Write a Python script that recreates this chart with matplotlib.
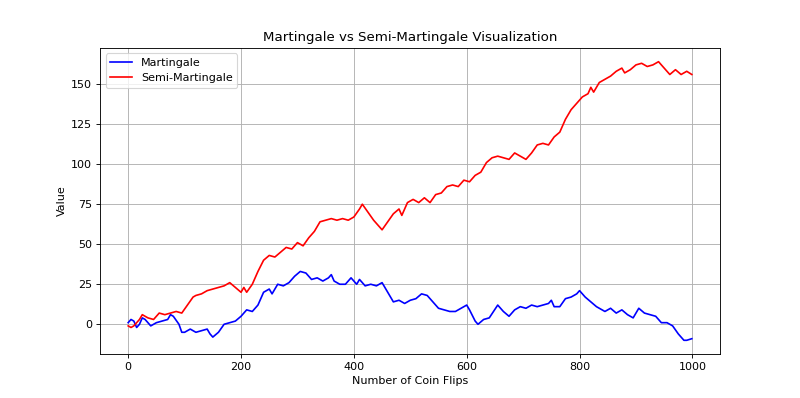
import numpy as np
import matplotlib
matplotlib.use("Agg")
import matplotlib.pyplot as plt

# values (coin flip index, value)
mart_x = [0, 5, 10, 15, 20, 25, 30, 40, 50, 60, 70, 75, 80, 90, 95, 100, 110, 120, 130, 140,
          145, 150, 160, 170, 180, 190, 200, 210, 220, 230, 240, 250, 255, 265, 275, 285, 295, 305,
          315, 325, 335, 345, 355, 360, 365, 375, 385, 395, 405, 410, 420, 430, 440, 450, 460,
          470, 480, 490, 500, 510, 520, 530, 540, 550, 560, 570, 580, 590, 600, 605, 615, 620,
          630, 640, 655, 665, 675, 685, 695, 705, 715, 725, 735, 745, 750, 755, 765, 775, 785,
          795, 800, 810, 820, 830, 840, 845, 855, 865, 875, 885, 895, 905, 915, 925, 935, 945,
          955, 965, 975, 985, 990, 999]
mart_y = [1, 3, 2, -2, 0, 4, 3, -1, 1, 2, 3, 6, 5, 0, -5, -5, -3, -5, -4, -3,
          -6, -8, -5, 0, 1, 2, 5, 9, 8, 12, 20, 22, 19, 25, 24, 26, 30, 33,
          32, 28, 29, 27, 29, 31, 27, 25, 25, 29, 25, 28, 24, 25, 24, 26, 20,
          14, 15, 13, 15, 16, 19, 18, 14, 10, 9, 8, 8, 10, 12, 9, 2, 0,
          3, 4, 12, 8, 5, 9, 11, 10, 12, 11, 12, 13, 15, 11, 11, 16, 17,
          19, 21, 17, 14, 11, 9, 8, 10, 7, 9, 6, 4, 10, 7, 6, 5, 1,
          1, -1, -6, -10, -10, -9]

semi_x = [0, 5, 10, 20, 25, 35, 45, 55, 65, 75, 85, 95, 105, 115, 120, 130, 140, 150, 160, 170,
          180, 190, 200, 205, 210, 220, 230, 240, 250, 260, 270, 280, 290, 300, 310, 320, 330,
          340, 350, 360, 370, 380, 390, 400, 410, 415, 425, 435, 445, 450, 460, 470, 480, 485,
          495, 505, 515, 525, 535, 545, 555, 565, 575, 585, 595, 605, 615, 625, 635, 645, 655,
          665, 675, 685, 695, 705, 715, 725, 735, 745, 755, 765, 775, 785, 795, 805, 815, 820,
          825, 835, 845, 855, 865, 875, 880, 890, 900, 910, 920, 930, 940, 950, 960, 970, 980,
          990, 999]
semi_y = [-1, -2, -1, 3, 6, 4, 3, 7, 6, 7, 8, 7, 12, 17, 18, 19, 21, 22, 23, 24,
          26, 23, 20, 23, 20, 25, 33, 40, 43, 42, 45, 48, 47, 51, 49, 54, 58,
          64, 65, 66, 65, 66, 65, 67, 72, 75, 70, 65, 61, 59, 64, 69, 72, 68,
          76, 78, 76, 79, 76, 81, 82, 86, 87, 86, 90, 89, 93, 95, 101, 104, 105,
          104, 103, 107, 105, 103, 107, 112, 113, 112, 117, 120, 128, 134, 138, 142, 144, 148,
          145, 151, 153, 155, 158, 160, 157, 159, 162, 163, 161, 162, 164, 160, 156, 159, 156,
          158, 156]

plt.figure(figsize=(10, 4.975), dpi=80)
plt.plot(mart_x, mart_y, color='blue', label='Martingale')
plt.plot(semi_x, semi_y, color='red', label='Semi-Martingale')
plt.title('Martingale vs Semi-Martingale Visualization')
plt.xlabel('Number of Coin Flips')
plt.ylabel('Value')
plt.legend(loc='upper left')
plt.grid(True)
plt.savefig('out.png', dpi=80)
